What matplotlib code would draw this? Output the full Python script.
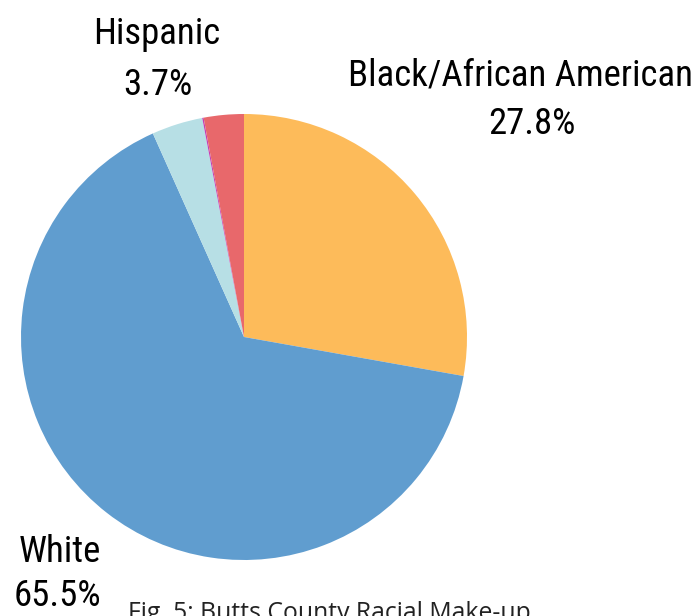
import matplotlib.pyplot as plt

# Butts County racial make-up (percent of population)
groups = ['Black/African American', 'White', 'Hispanic', 'Two or more', 'Other']
shares = [27.8, 65.5, 3.7, 0.1, 2.9]
colors = ['#FDBB5A', '#609DCF', '#B7DFE5', '#C43FB4', '#E8686B']

W, H = 693, 616
fig = plt.figure(figsize=(W / 100, H / 100), dpi=100)

# pie centred at (244, 337) px with a 223 px radius
cx, cy, r = 244, 337, 223
ax = fig.add_axes([(cx - r) / W, (H - cy - r) / H, 2 * r / W, 2 * r / H])
ax.pie(shares, colors=colors, startangle=90, counterclock=False,
       wedgeprops={'linewidth': 0})
ax.set_xlim(-1, 1)
ax.set_ylim(-1, 1)
ax.set_aspect('equal')
ax.axis('off')

lab_font = ['Roboto Condensed', 'DejaVu Sans']


def label(x, y, s):
    # x = centre, y = baseline, both in pixels from the top-left
    fig.text(x / W, 1 - y / H, s, ha='center', va='baseline',
             fontsize=26.5, family=lab_font, color='black')


label(157, 44, 'Hispanic')
label(158, 95, '3.7%')
label(521, 86, 'Black/African American')
label(532, 134, '27.8%')
label(60, 562, 'White')
label(57, 606, '65.5%')

fig.text(128 / W, 1 - 620 / H, 'Fig. 5: Butts County Racial Make-up',
         ha='left', va='baseline', fontsize=17.8, family='Open Sans', color='#222222')

fig.savefig('out.png', dpi=100)
